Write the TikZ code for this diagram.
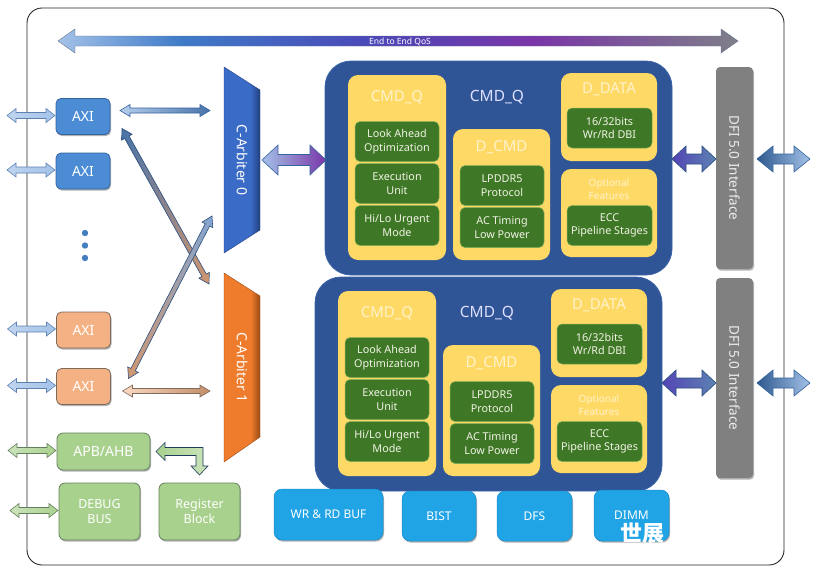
\documentclass[tikz,border=0pt]{standalone}
\usepackage{fontspec}
\setmainfont{Noto Sans}
\newfontfamily\cjk{Noto Sans CJK SC}
\usetikzlibrary{calc,shadows}

\definecolor{axiblue}{HTML}{4C8CD4}
\definecolor{axiborder}{HTML}{34639F}
\definecolor{axiorange}{HTML}{F4B183}
\definecolor{orangeborder}{HTML}{7F6A5E}
\definecolor{lgreen}{HTML}{A9D18E}
\definecolor{lgreenborder}{HTML}{647F5C}
\definecolor{blkblue}{HTML}{2F5597}
\definecolor{blkborder}{HTML}{3B62A8}
\definecolor{yfill}{HTML}{FFD966}
\definecolor{ytext}{HTML}{FFF3CC}
\definecolor{dgreen}{HTML}{3E7826}
\definecolor{dgreenborder}{HTML}{7FB05A}
\definecolor{gtext}{HTML}{F2F2E6}
\definecolor{dfigray}{HTML}{808080}
\definecolor{dfitext}{HTML}{EDEDED}
\definecolor{cyanbox}{HTML}{20A4E6}
\definecolor{cyanborder}{HTML}{1A8BC8}
\definecolor{qa}{HTML}{A4C2E8}
\definecolor{qb}{HTML}{3F7BC8}
\definecolor{qc}{HTML}{4B48B8}
\definecolor{qd}{HTML}{7A35A8}
\definecolor{qe}{HTML}{7F7F88}
\definecolor{arbA}{HTML}{3A6BC6}
\definecolor{arbAd}{HTML}{22417F}
\definecolor{arbB}{HTML}{EE7C2C}
\definecolor{arbBd}{HTML}{9A4A14}

\pgfdeclarehorizontalshading{qosshade}{100bp}{color(0bp)=(qa); color(25bp)=(qa); color(34bp)=(qb); color(48bp)=(qc); color(60bp)=(qd); color(75bp)=(qe); color(100bp)=(qe)}
\pgfdeclarehorizontalshading{arbshadeA}{100bp}{color(0bp)=(arbA); color(62bp)=(arbA); color(75bp)=(arbAd); color(100bp)=(arbAd)}
\pgfdeclarehorizontalshading{arbshadeB}{100bp}{color(0bp)=(arbB); color(62bp)=(arbB); color(75bp)=(arbBd); color(100bp)=(arbBd)}

% double headed block arrow: #1 from, #2 to, #3 shaft half width, #4 head half width, #5 head length, #6 style
\newcommand{\dbarrow}[6]{%
  \path let \p1=#1, \p2=#2, \n1={atan2(\y2-\y1,\x2-\x1)}, \n2={veclen(\x2-\x1,\y2-\y1)} in \pgfextra{\xdef\baAng{\n1}\xdef\baLen{\n2}};%
  \begin{scope}[shift={#1}, rotate=\baAng]
    \path[#6] (0pt,0pt) -- (#5,#4) -- (#5,#3) -- ({\baLen-#5},#3) -- ({\baLen-#5},#4) -- (\baLen,0pt)
      -- ({\baLen-#5},-#4) -- ({\baLen-#5},-#3) -- (#5,-#3) -- (#5,-#4) -- cycle;
  \end{scope}}

\tikzset{
  base/.style={inner sep=0pt, outer sep=0pt, align=center},
  shd/.style={drop shadow={shadow xshift=1pt, shadow yshift=-1.6pt, opacity=0.3, fill=black}},
  axib/.style={base, shd, draw=axiborder, line width=0.8pt, fill=axiblue, rounded corners=5pt,
    minimum width=54, minimum height=36, text=white, font=\fontsize{14}{16}\selectfont},
  axio/.style={axib, draw=orangeborder, fill=axiorange},
  gbtn/.style={base, shd, draw=lgreenborder, line width=0.8pt, fill=lgreen, rounded corners=6pt,
    text=white, font=\fontsize{14}{16}\selectfont},
  bigblock/.style={base, draw=blkborder, line width=0.8pt, fill=blkblue, rounded corners=26pt},
  ybox/.style={base, fill=yfill, rounded corners=10pt},
  ytitle/.style={base, text=ytext, font=\fontsize{15}{17}\selectfont},
  gbox/.style={base, fill=dgreen, draw=dgreenborder, line width=0.5pt, rounded corners=5pt,
    minimum width=84, minimum height=40, text=gtext, font=\fontsize{10.8}{13.5}\selectfont},
  dfibox/.style={base, shd, fill=dfigray, rounded corners=4pt, minimum width=37},
  dfilabel/.style={base, rotate=-90, text=dfitext, font=\fontsize{13.5}{15}\selectfont},
  cbox/.style={base, shd, fill=cyanbox, draw=cyanborder, line width=0.5pt, rounded corners=8pt,
    text=white, font=\fontsize{12}{14}\selectfont},
  arblabel/.style={base, rotate=-90, text=white, font=\fontsize{14}{16}\selectfont},
  extblue/.style={left color=qa!70!white, right color=qa, draw=axiborder!80, line width=0.6pt},
  extgreen/.style={left color=lgreen!60!white, right color=lgreen, draw=lgreenborder, line width=0.6pt},
  thinblue/.style={left color=qa!80!white, right color=axiborder!90, draw=axiborder, line width=0.6pt},
  thinorange/.style={left color=axiorange!50!white, right color=axiorange!80!black, draw=orangeborder, line width=0.6pt},
  bluetoorange/.style={left color=axiborder!90, right color=axiorange!85!black, draw=axiborder!80!black, line width=0.6pt},
  orangetoblue/.style={left color=axiorange!85!black, right color=qa!70!axiborder, draw=axiborder!80!black, line width=0.6pt},
  bigarrow/.style={left color=qa, right color=qd, draw=axiborder, line width=0.6pt},
  dfiarrow/.style={left color=qc!80!qd, right color=axiborder!80!white, draw=axiborder!80!black, line width=0.6pt},
  outarrow/.style={left color=axiborder!90!black, right color=qa, draw=axiborder, line width=0.6pt},
}

\newcommand{\ctrlblock}[3]{%
  \begin{scope}[shift={(#2,#3)}]
    \node[ybox, minimum width=98, minimum height=185] (#1cq) at (397,167.5) {};
    \node[ytitle] (#1cqt) at (397,97) {CMD\_Q};
    \node[gbox] (#1la) at (397,141.5) {Look Ahead\\Optimization};
    \node[gbox] (#1eu) at (397,183.5) {Execution\\Unit};
    \node[gbox] (#1hl) at (397,225.5) {Hi/Lo Urgent\\Mode};
    \node[base, text=white!88!blue, font=\fontsize{15.5}{17}\selectfont] (#1ct) at (497,97) {CMD\_Q};
    \node[ybox, minimum width=97, minimum height=131] (#1dc) at (501.5,194.5) {};
    \node[ytitle] (#1dct) at (501.5,147) {D\_CMD};
    \node[gbox] (#1lp) at (502,185.5) {LPDDR5\\Protocol};
    \node[gbox] (#1ac) at (502,227.5) {AC Timing\\Low Power};
    \node[ybox, minimum width=96, minimum height=88] (#1dd) at (609,117) {};
    \node[ytitle] (#1ddt) at (609,89) {D\_DATA};
    \node[gbox, minimum width=85] (#1bits) at (609.5,128) {16/32bits\\Wr/Rd DBI};
    \node[ybox, minimum width=96, minimum height=88] (#1of) at (609,213) {};
    \node[base, text=ytext, font=\fontsize{10}{13}\selectfont] (#1oft) at (609,189.5) {Optional\\Features};
    \node[gbox, minimum width=85] (#1ecc) at (609.5,225.5) {ECC\\Pipeline Stages};
  \end{scope}}

\begin{document}
\begin{tikzpicture}[x=1pt, y=-1pt]
\useasboundingbox (0,0) rectangle (830,576);

% outer frame
\node[base, draw=black!85, line width=0.9pt, rounded corners=15pt, minimum width=757, minimum height=557] (frame) at (405.5,286.5) {};

% End to End QoS
\coordinate (qosL) at (58,41);
\coordinate (qosR) at (738,41);
\dbarrow{(qosL)}{(qosR)}{5pt}{12pt}{17pt}{shading=qosshade, draw=qa!60!black, line width=0.4pt}
\node[base, text=white, font=\fontsize{8.5}{10}\selectfont] (qoslabel) at ($(qosL)!0.5!(qosR)+(2,1)$) {End to End QoS};

% left interfaces
\node[axib] (axi1) at (83,116.5) {AXI};
\node[axib] (axi2) at (83,171) {AXI};
\node[axio] (axi3) at (83.5,330) {AXI};
\node[axio] (axi4) at (83.5,386.5) {AXI};
\node[gbtn, minimum width=93, minimum height=37] (apb) at (103.5,451.5) {APB/AHB};
\node[gbtn, minimum width=81, minimum height=57, font=\fontsize{12.5}{15}\selectfont] (dbg) at (99.5,511.5) {DEBUG\\BUS};
\node[gbtn, minimum width=81, minimum height=57, font=\fontsize{12.5}{15}\selectfont] (reg) at (199.5,511.5) {Register\\Block};

\foreach \yy in {233,245.5,258}{
  \fill[axiblue!90!black] (85,\yy) circle (3.2pt);
}

\foreach \nd in {axi1,axi2,axi3,axi4}{
  \dbarrow{($(\nd.west)+(-49,-1)$)}{($(\nd.west)+(-1,-1)$)}{3pt}{7pt}{9pt}{extblue}
}
\foreach \nd in {apb,dbg}{
  \dbarrow{($(\nd.west)+(-49,-1)$)}{($(\nd.west)+(-1,-1)$)}{3pt}{7pt}{9pt}{extgreen}
}

% APB/AHB to Register Block
\path[left color=lgreen, right color=lgreen!60!white, draw=axiborder!60!black, line width=0.6pt]
  let \p1=($(apb.east)+(6,0)$), \p2=($(reg.north)+(0,-8)$) in
  (\p1) -- (\x1+9pt,\y1+9pt) -- (\x1+9pt,\y1+4pt) -- (\x2+3.5pt,\y1+4pt) -- (\x2+3.5pt,\y2+9pt)
  -- (\x2+8.5pt,\y2+9pt) -- (\p2) -- (\x2-8.5pt,\y2+9pt) -- (\x2-3.5pt,\y2+9pt)
  -- (\x2-3.5pt,\y1-4pt) -- (\x1+9pt,\y1-4pt) -- (\x1+9pt,\y1-9pt) -- cycle;

% arbiters
\node[base, minimum width=36, minimum height=186] (arb0) at (242,160) {};
\shade[shading=arbshadeA, draw=arbAd, line width=0.4pt]
  (arb0.north west) -- ($(arb0.north east)+(0,23)$) -- ($(arb0.south east)+(0,-23)$) -- (arb0.south west) -- cycle;
\node[arblabel] (arb0t) at (arb0.center) {C-Arbiter 0};

\node[base, minimum width=36, minimum height=189] (arb1) at (242,367.5) {};
\shade[shading=arbshadeB, draw=arbBd, line width=0.4pt]
  (arb1.north west) -- ($(arb1.north east)+(0,23)$) -- ($(arb1.south east)+(0,-25)$) -- (arb1.south west) -- cycle;
\node[arblabel] (arb1t) at (arb1.center) {C-Arbiter 1};

% AXI to arbiters
\dbarrow{($(axi1.east)+(10,-6)$)}{($(arb0.west|-axi1.east)+(-14,-6)$)}{2.5pt}{6pt}{10pt}{thinblue}
\dbarrow{($(axi4.east)+(12,4.5)$)}{($(arb1.west|-axi4.east)+(-14,4.5)$)}{2.5pt}{6pt}{10pt}{thinorange}
\dbarrow{($(axi1.south east)+(12,-6)$)}{($(arb1.north west)+(-15,11)$)}{2.5pt}{6pt}{10pt}{bluetoorange}
\dbarrow{($(axi4.north east)+(18,10)$)}{($(arb0.south west)+(-12,-37)$)}{2.5pt}{6pt}{10pt}{orangetoblue}

% controller blocks
\node[bigblock, minimum width=347, minimum height=214] (blkA) at (498.5,168) {};
\ctrlblock{a}{0}{0}
\node[bigblock, minimum width=347, minimum height=214] (blkB) at (488.5,384) {};
\ctrlblock{b}{-10}{216}

% arbiter to block
\dbarrow{($(arb0.east)+(2,0)$)}{($(blkA.west|-arb0.east)+(1,0)$)}{5.5pt}{15pt}{16pt}{bigarrow}

% DFI
\node[dfibox, minimum height=202] (dfi1) at (734.5,168) {};
\node[dfilabel] (dfi1t) at (dfi1.center) {DFI 5.0 Interface};
\node[dfibox, minimum height=200] (dfi2) at (734.5,378) {};
\node[dfilabel] (dfi2t) at (dfi2.center) {DFI 5.0 Interface};

\dbarrow{($(blkA.east)+(0,-9)$)}{($(dfi1.west)+(0,-9)$)}{5pt}{13pt}{14pt}{dfiarrow}
\dbarrow{($(blkB.east)+(0,-1)$)}{($(dfi2.west|-blkB.east)+(0,-1)$)}{5pt}{13pt}{14pt}{dfiarrow}
\dbarrow{($(dfi1.east)+(4,-9)$)}{($(dfi1.east)+(57,-9)$)}{5pt}{13pt}{16pt}{outarrow}
\dbarrow{($(dfi2.east)+(4,5)$)}{($(dfi2.east)+(57,5)$)}{5pt}{13pt}{16pt}{outarrow}

% bottom blocks
\node[cbox, minimum width=109, minimum height=51] (buf) at (328.5,514.5) {WR \& RD BUF};
\node[cbox, minimum width=74, minimum height=50] (bist) at (439,516) {BIST};
\node[cbox, minimum width=75, minimum height=50] (dfs) at (534.5,516) {DFS};
\node[cbox, minimum width=75, minimum height=51] (dimm) at (631.5,515.5) {DIMM};

% watermark
\node[base, text=white, font=\cjk\bfseries\fontsize{22}{24}\selectfont] (wm) at (642,533) {世展};
\end{tikzpicture}
\end{document}
